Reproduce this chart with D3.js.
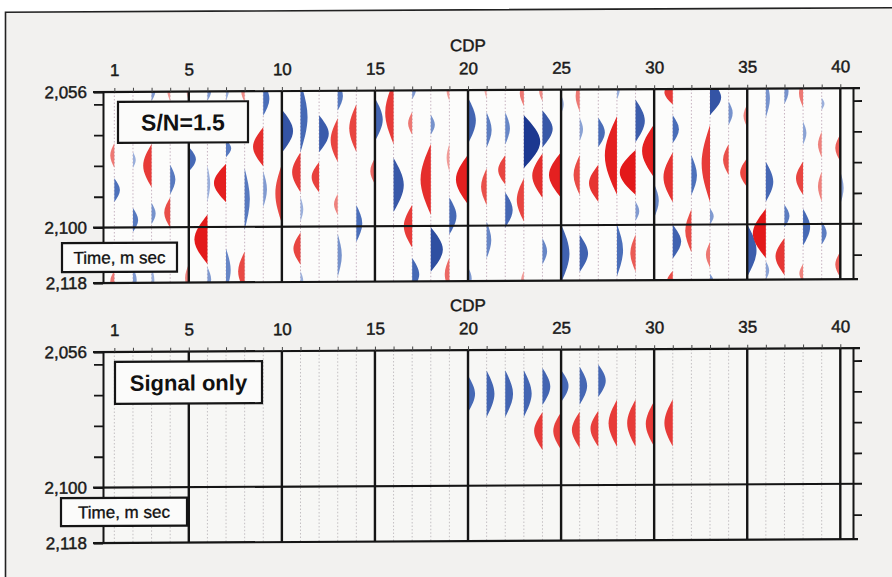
<!DOCTYPE html>
<html>
<head>
<meta charset="utf-8">
<script src="https://cdn.jsdelivr.net/npm/d3@7.9.0/dist/d3.min.js"></script>
<style>
  body { margin: 0; background: #fff; }
  svg { display: block; font-family: "Liberation Sans", Arial, sans-serif; }
</style>
</head>
<body>
<div id="chart"></div>
<script>
// CDP positions, labels and time ticks
const cdps = d3.range(1, 41);
const cdpLabels = [1, 5, 10, 15, 20, 25, 30, 35, 40];
const heavyCdps = [5, 10, 15, 20, 25, 30, 35, 40];
const timeLabels = [2056, 2100, 2118];
const timeMinor = [2060, 2070, 2080, 2090, 2110];

// wiggle lobes: [cdp, start ms, end ms, amplitude in trace spacings]
// positive = blue, to the right of the trace; negative = red, to the left
const noisyLobes = [
  [1,2072.6,2080.7,-0.22],[1,2084,2091.7,0.3],[1,2114,2121,-0.22],
  [2,2075.5,2080.7,0.15],[2,2093.7,2101.5,0.28],[2,2113,2121,0.2],
  [3,2053,2059,0.2],[3,2073,2087,-0.45],[3,2092,2099,0.22],[3,2113,2121,0.15],
  [4,2053,2059,-0.15],[4,2079.7,2089.4,0.28],[4,2090.4,2100.2,-0.32],
  [5,2053,2059,-0.12],[5,2074,2082,0.38],[5,2112,2121,-0.2],
  [6,2053,2059,0.2],[6,2080,2092,0.15],[6,2096,2112,-0.7],[6,2113,2121,0.2],
  [7,2053,2059,0.15],[7,2071.6,2077.4,0.28],[7,2079.5,2092,-0.65],[7,2107,2121,0.25],
  [8,2053,2059.5,-0.18],[8,2081,2101,0.28],[8,2108,2121,-0.35],
  [9,2053,2064,0.33],[9,2067.7,2080.4,-0.55],[9,2082,2093.7,0.2],
  [10,2062,2076,0.6],[10,2079.7,2099,-0.35],
  [11,2053,2075.9,0.38],[11,2075.9,2088.9,-0.45],[11,2090.4,2098.4,0.15],[11,2101.9,2112.4,-0.38],[11,2114.4,2121,0.15],
  [12,2063.9,2075.9,0.52],[12,2079.1,2088.9,-0.4],
  [13,2053,2062.4,0.28],[13,2064.9,2079.1,-0.38],[13,2089.4,2096.3,-0.2],[13,2102.4,2116.4,0.22],
  [14,2060.4,2075.9,-0.38],[14,2093.1,2105.1,0.32],
  [15,2058.4,2072.4,0.42],[15,2077.9,2086.4,-0.25],
  [16,2053,2073.4,-0.45],[16,2077.9,2095.4,0.55],
  [17,2053,2058.9,0.2],[17,2062.9,2070.4,-0.22],[17,2093.1,2107,-0.45],[17,2110.4,2121,0.38],
  [18,2063.9,2070.4,0.22],[18,2073.4,2096.4,-0.55],[18,2100.4,2114.9,0.65],
  [19,2053,2059.4,-0.15],[19,2073.4,2082.4,-0.15],[19,2090.8,2102.8,0.38],[19,2110.4,2121,-0.25],
  [20,2058.4,2073.4,0.42],[20,2076.9,2093.1,-0.65],[20,2113.4,2121,0.2],
  [21,2053,2058.7,-0.12],[21,2063.2,2074.7,0.27],[21,2081.4,2093.4,-0.3],[21,2098.7,2110.7,0.25],
  [22,2063.2,2073.7,0.25],[22,2077.2,2086.7,-0.38],[22,2089.2,2100.7,0.4],
  [23,2053,2061.2,-0.22],[23,2064.2,2081.4,0.88],[23,2084.7,2098.7,-0.38],[23,2114.7,2121,-0.15],
  [24,2053,2059.7,-0.18],[24,2062.7,2074.7,0.55],[24,2076.7,2091.1,-0.55],[24,2104.2,2112.7,0.25],
  [25,2057.7,2063.7,0.15],[25,2076.2,2091.1,-0.65],[25,2099.7,2118.7,0.45],
  [26,2053,2063.2,-0.22],[26,2065.1,2072.7,0.18],[26,2077.2,2090.2,-0.33],[26,2103.1,2115.2,0.45],
  [27,2065.2,2074.7,0.35],[27,2080.4,2092.4,-0.5],
  [28,2053,2059.2,0.15],[28,2064.7,2090.2,-0.65],[28,2099.7,2116.7,0.33],
  [29,2059.3,2073.2,0.5],[29,2075.7,2090.2,-0.85],[29,2092.4,2098.7,0.2],[29,2103.1,2115.2,-0.28],
  [30,2067.4,2084.7,-0.65],[30,2086.7,2097.7,0.25],
  [31,2053,2061,-0.45],[31,2064.5,2073.5,0.33],[31,2076.5,2092.7,-0.5],[31,2100,2111,0.45],[31,2115,2121,-0.3],
  [32,2077.5,2090.5,0.3],[32,2095,2109,-0.33],
  [33,2053,2064.5,0.6],[33,2067.7,2092.7,-0.45],[33,2094.7,2100,0.2],[33,2105.7,2114,-0.22],[33,2116,2121,0.2],
  [34,2060,2067.7,0.22],[34,2074,2084,-0.3],
  [35,2061,2068.5,-0.2],[35,2078.5,2088,-0.38],[35,2100,2117,0.5],
  [36,2053,2065.4,0.22],[36,2079.7,2092.7,0.4],[36,2095,2111,-0.7],[36,2112,2118,0.18],
  [37,2053,2061,0.22],[37,2093.7,2101,0.27],[37,2104.5,2116.5,-0.48],
  [38,2053,2062,-0.22],[38,2066.7,2074.2,0.18],[38,2079.7,2090.5,-0.38],[38,2095,2107,0.38],[38,2113,2119,-0.2],
  [39,2059,2063,0.15],[39,2070,2078.4,-0.2],[39,2083,2092.7,-0.2],[39,2099.2,2106.7,0.27],
  [40,2071,2079.7,-0.27],[40,2083,2093.7,0.18],[40,2109,2117.4,-0.27]
];

const signalLobes = [
  [20,2064.2,2076.2,0.38],[21,2062.6,2077.8,0.42],[22,2062.6,2077.8,0.42],[23,2062.6,2077.8,0.42],
  [24,2061.9,2073.9,0.42],[25,2062.6,2073,0.4],[26,2061.6,2073.9,0.4],[27,2060.9,2071.4,0.4],
  [24,2076.2,2088.5,-0.45],[25,2076.2,2088.5,-0.42],[26,2076.2,2088,-0.42],[27,2075.9,2087.6,-0.42],
  [28,2072.3,2087.6,-0.45],[29,2072.3,2087.6,-0.45],[30,2072.9,2087.6,-0.45],[31,2072.3,2087.6,-0.45]
];

const width = 892, height = 577;
const plotLeft = 103, plotRight = 853, panelH = 191;
const ink = '#1a1a1a';

const svg = d3.select('#chart').append('svg')
  .attr('width', width)
  .attr('height', height);

svg.append('rect').attr('width', width).attr('height', height).attr('fill', '#fff');

// the scanned page is slightly skewed, horizontals rise to the right
const root = svg.append('g').attr('transform', 'matrix(1,-0.005,0,1,0,0.5)');

root.append('rect')
  .attr('x', 5.5).attr('y', 11.7)
  .attr('width', 920).attr('height', 620)
  .attr('fill', '#f2f1ef')
  .attr('stroke', '#222')
  .attr('stroke-width', 1.6);

const x = d3.scaleLinear().domain([5, 40]).range([188.8, 840.3]);
const spacing = x(1) - x(0);

const blueShade = d3.scaleLinear().domain([0.12, 0.3, 0.9]).range(['#a9bbe1', '#4d71bb', '#1a368e']).clamp(true);
const redShade = d3.scaleLinear().domain([0.12, 0.3, 0.7]).range(['#f2aaa6', '#e9504a', '#e3191a']).clamp(true);

function styleText(sel) {
  sel.attr('font-size', 17)
    .attr('font-family', '"Liberation Sans", Arial, sans-serif')
    .attr('fill', ink)
    .attr('stroke', ink)
    .attr('stroke-width', 0.45);
}

function drawPanel(top, lobes, opts, idx) {
  const y = d3.scaleLinear().domain([2056, 2118]).range([top, top + panelH]);
  const g = root.append('g');

  g.append('rect')
    .attr('x', plotLeft).attr('y', top)
    .attr('width', plotRight - plotLeft).attr('height', panelH)
    .attr('fill', opts.bg);

  const clipId = 'clip' + idx;
  g.append('clipPath').attr('id', clipId)
    .append('rect')
    .attr('x', plotLeft).attr('y', top)
    .attr('width', plotRight - plotLeft).attr('height', panelH);

  // thin dotted trace lines
  g.append('g')
    .selectAll('line')
    .data(cdps.filter(c => !heavyCdps.includes(c)))
    .join('line')
    .attr('x1', d => x(d)).attr('x2', d => x(d))
    .attr('y1', top).attr('y2', top + panelH)
    .attr('stroke', opts.traceColor)
    .attr('stroke-width', 1)
    .attr('stroke-dasharray', '1.5,2');

  // filled wiggle lobes
  const area = d3.area()
    .curve(d3.curveNatural)
    .y(d => y(d[1]))
    .x0(d => x(d[0]))
    .x1(d => x(d[0]) + d[2] * spacing);

  g.append('g')
    .attr('clip-path', `url(#${clipId})`)
    .selectAll('path')
    .data(lobes)
    .join('path')
    .attr('d', d => area([[d[0], d[1], 0], [d[0], (d[1] + d[2]) / 2, d[3]], [d[0], d[2], 0]]))
    .attr('fill', d => d[3] > 0 ? blueShade(d[3]) : redShade(-d[3]));

  // heavy lines every 5 CDP
  g.append('g')
    .selectAll('line')
    .data(heavyCdps)
    .join('line')
    .attr('x1', d => x(d)).attr('x2', d => x(d))
    .attr('y1', top).attr('y2', top + panelH)
    .attr('stroke', '#151515')
    .attr('stroke-width', 2.4);

  // borders and the 2,100 line
  const hLines = [[2056, 93, 860], [2100, 93, 862], [2118, 93, 858]];
  g.append('g')
    .selectAll('line')
    .data(hLines)
    .join('line')
    .attr('x1', d => d[1]).attr('x2', d => d[2])
    .attr('y1', d => y(d[0])).attr('y2', d => y(d[0]))
    .attr('stroke', '#151515')
    .attr('stroke-width', 2.2);

  // left axis
  const yAxis = g.append('g')
    .attr('transform', `translate(${plotLeft},0)`)
    .call(d3.axisLeft(y)
      .tickValues(timeLabels.concat(timeMinor))
      .tickSize(9)
      .tickSizeOuter(0)
      .tickPadding(7)
      .tickFormat(d => timeLabels.includes(d) ? d3.format(',')(d) : ''));
  yAxis.select('.domain').attr('stroke', '#151515').attr('stroke-width', 2);
  yAxis.selectAll('.tick line').attr('stroke', '#151515').attr('stroke-width', 1.8);
  yAxis.selectAll('.tick text').call(styleText);

  // right axis
  const rAxis = g.append('g')
    .attr('transform', `translate(${plotRight},0)`)
    .call(d3.axisRight(y).tickValues(timeMinor).tickSize(9).tickSizeOuter(0).tickFormat(''));
  rAxis.select('.domain').attr('stroke', '#151515').attr('stroke-width', 2);
  rAxis.selectAll('.tick line').attr('stroke', '#151515').attr('stroke-width', 1.8);

  // top axis
  const xAxis = g.append('g')
    .attr('transform', `translate(0,${top})`)
    .call(d3.axisTop(x)
      .tickValues(cdps)
      .tickSize(4)
      .tickSizeOuter(0)
      .tickPadding(12)
      .tickFormat(d => cdpLabels.includes(d) ? d : ''));
  xAxis.select('.domain').remove();
  xAxis.selectAll('.tick line').attr('stroke', '#444').attr('stroke-width', 1);
  xAxis.selectAll('.tick text').call(styleText);

  g.append('text')
    .attr('x', x(20)).attr('y', top - 39)
    .attr('text-anchor', 'middle')
    .call(styleText)
    .text('CDP');

  // label boxes
  const boxes = [opts.title, opts.time];
  const box = g.append('g').selectAll('g').data(boxes).join('g');
  box.append('rect')
    .attr('x', d => d.x).attr('y', d => d.y)
    .attr('width', d => d.w).attr('height', d => d.h)
    .attr('fill', '#fbfbfa')
    .attr('stroke', '#151515')
    .attr('stroke-width', 2.2);
  box.append('text')
    .attr('x', d => d.x + d.w / 2)
    .attr('y', d => d.y + d.h / 2 + d.size * 0.36)
    .attr('text-anchor', 'middle')
    .attr('font-size', d => d.size)
    .attr('font-weight', d => d.bold ? 'bold' : 'normal')
    .attr('fill', '#111')
    .attr('stroke', '#111')
    .attr('stroke-width', d => d.bold ? 0 : 0.35)
    .text(d => d.text);
}

drawPanel(92, noisyLobes, {
  bg: '#fcfcfb',
  traceColor: '#c7b3c0',
  title: { text: 'S/N=1.5', x: 118, y: 102, w: 130, h: 41, size: 23, bold: true },
  time: { text: 'Time, m sec', x: 62, y: 243, w: 115, h: 29, size: 17, bold: false }
}, 0);

drawPanel(352, signalLobes, {
  bg: '#f7f7f5',
  traceColor: '#c4c0c3',
  title: { text: 'Signal only', x: 115, y: 362, w: 147, h: 42, size: 22, bold: true },
  time: { text: 'Time, m sec', x: 61, y: 498, w: 126, h: 28, size: 17, bold: false }
}, 1);
</script>
</body>
</html>
